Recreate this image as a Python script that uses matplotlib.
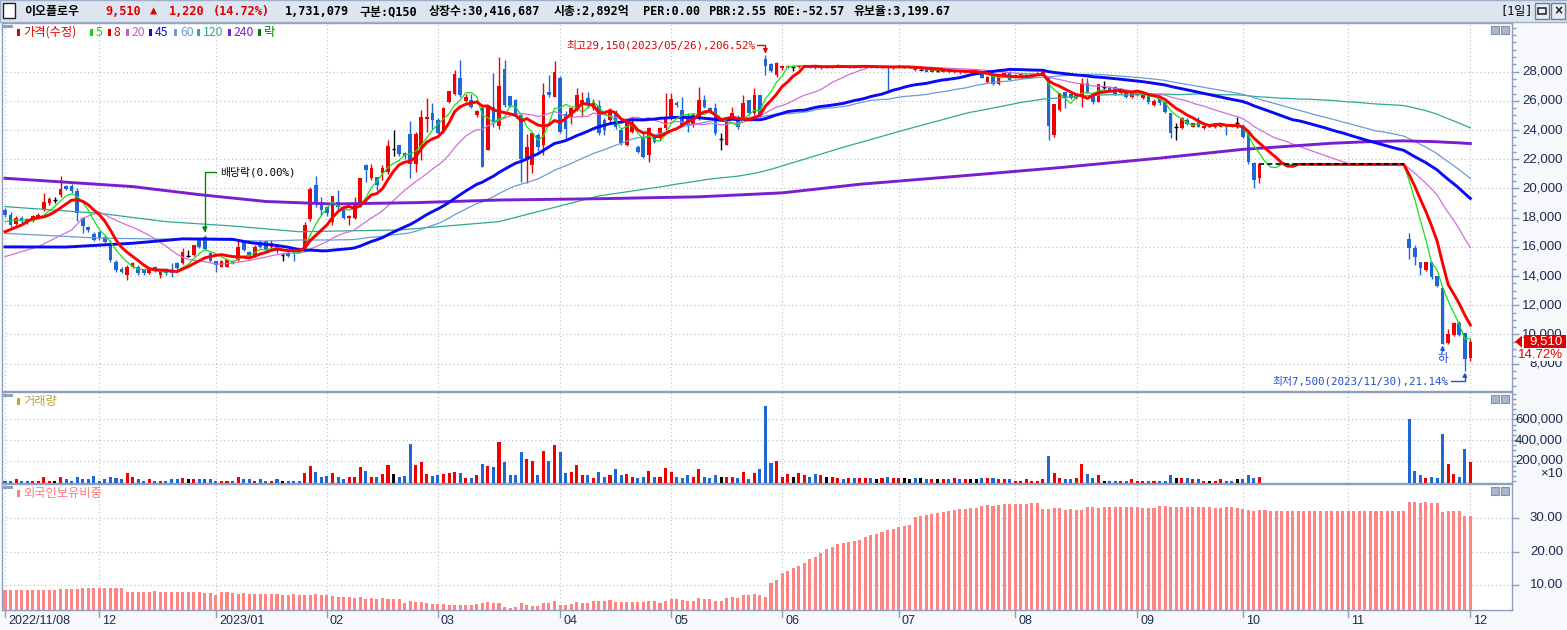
import numpy as np
import pandas as pd
import matplotlib
matplotlib.use("Agg")
import matplotlib.pyplot as plt
from matplotlib import transforms
from matplotlib.patches import Rectangle, Polygon
from matplotlib.ticker import MultipleLocator

# ---------------- data ----------------
opens = [
    18530, 18180, 17600, 18000, 17900, 17750, 17950, 18530, 19000, 19200,
    19550, 20150, 20200, 19800, 17950, 17350, 16900, 17050, 16700, 16250,
    14990, 14500, 14050, 14650, 14650, 14450, 14200, 14650, 14100, 14450,
    14450, 14900, 14900, 15400, 15450, 16450, 16700, 15560, 15000, 14650,
    14650, 15000, 15100, 16350, 15650, 15350, 16350, 16400, 16000, 16100,
    15450, 15600, 15750, 15800, 15900, 17900, 20250, 19100, 18700, 17700,
    19100, 18750, 17950, 17950, 18750, 21600, 20700, 20800, 21050, 21150,
    22700, 23000, 22450, 23750, 21700, 22850, 24750, 25150, 24700, 23900,
    25950, 26500, 27550, 26000, 26050, 25000, 25500, 22650, 25550, 24250,
    28200, 26350, 26050, 25000, 21950, 21600, 23650, 22950, 26600, 26300,
    27550, 25100, 24900, 25400, 25720, 26180, 25490, 25650, 24690, 24690,
    25260, 24010, 22980, 23890, 22860, 23430, 22290, 23550, 23440, 24120,
    24800, 25880, 25370, 24920, 24350, 24920, 26060, 25490, 25490, 23370,
    22980, 24920, 24920, 24920, 26060, 25150, 26400, 28850, 28530, 27770,
    28230, 28300, 28340, 28300, 28340, 28390, 28340, 28250, 28340, 28300,
    28340, 28430, 28300, 28390, 28300, 28300, 28390, 28340, 28300, 28340,
    28250, 28300, 28340, 28300, 28250, 28150, 28150, 28000, 28050, 28000,
    28100, 27950, 28050, 27950, 28000, 27950, 27900, 27320, 27730, 27150,
    27730, 27950, 27600, 27700, 27650, 27750, 27800, 27800, 27660, 23650,
    25380, 26630, 26470, 26220, 26290, 27200, 26520, 25950, 26970, 26930,
    26970, 26560, 26750, 26290, 26400, 26180, 26360, 25720, 26130, 25950,
    25150, 24190, 24120, 24700, 24240, 24700, 24170, 24300, 24190, 24240,
    24240, 24350, 24470, 24300, 23780, 21720, 20700,
] + [21650] * 26 + [
    16520, 15900, 14950, 14420, 14950, 14010, 13190, 9400, 9950, 10810, 10130, 8400,
]

closes = [
    18180, 17500, 17950, 17750, 17700, 18100, 18200, 19100, 19300, 19200,
    19950, 19950, 19800, 18300, 17400, 17150, 16500, 16600, 16350, 15100,
    14400, 14300, 14650, 14870, 14200, 14200, 14400, 14400, 14300, 14200,
    14200, 14550, 15670, 15400, 16100, 16000, 15850, 15000, 14750, 15000,
    15100, 14900, 16000, 15800, 15350, 16000, 16000, 15800, 16250, 15700,
    15450, 15400, 15550, 15700, 17500, 19950, 19100, 18500, 18300, 19500,
    18750, 17950, 18100, 18850, 20700, 21250, 21400, 20250, 21400, 22900,
    22700, 22350, 22200, 21700, 23750, 24900, 24900, 24700, 23800, 25500,
    26700, 27850, 26400, 26300, 25600, 25300, 21500, 25600, 24550, 27000,
    25700, 25650, 24900, 22050, 22850, 23800, 22850, 26400, 26400, 28000,
    23900, 24100, 25500, 26400, 26060, 25720, 25950, 23780, 24010, 25260,
    24240, 23090, 24580, 24580, 22520, 22180, 24120, 23210, 24120, 24800,
    26100, 25720, 24350, 24350, 25030, 26060, 25600, 25260, 23780, 23370,
    24920, 25150, 24240, 25830, 25150, 26400, 25030, 28390, 28070, 28570,
    28390, 28390, 28340, 28390, 28390, 28300, 28250, 28340, 28340, 28390,
    28430, 28340, 28390, 28300, 28340, 28390, 28300, 28340, 28340, 28250,
    28340, 28390, 28340, 28300, 28100, 28150, 28000, 28100, 28050, 28100,
    27950, 28050, 27950, 28000, 28000, 27950, 27600, 27660, 27150, 27730,
    27900, 27450, 27800, 27850, 27800, 27850, 27900, 28000, 24300, 25770,
    26520, 26290, 26220, 26450, 27200, 26630, 25950, 27140, 26970, 26700,
    26450, 26750, 26290, 26560, 26520, 26400, 25900, 26020, 25830, 25220,
    23780, 24190, 24810, 24420, 24470, 24240, 24280, 24300, 24350, 24400,
    24190, 24240, 24470, 23550, 21790, 20580, 21650,
] + [21650] * 26 + [
    15900, 15330, 14540, 14950, 13920, 13350, 9350, 10010, 10810, 9950, 8290, 9510,
]

highs = [
    18640, 18410, 18100, 18150, 18000, 18200, 18350, 19700, 19400, 19450,
    20850, 20250, 20300, 20000, 18050, 17450, 17000, 17100, 16800, 16450,
    15100, 14600, 14750, 14950, 14750, 14500, 14500, 14700, 14400, 14550,
    14900, 14950, 15900, 15800, 16150, 16600, 16800, 15650, 15050, 15100,
    15200, 15100, 16450, 16450, 15700, 16100, 16450, 16500, 16500, 16200,
    15600, 15700, 15800, 15850, 17700, 20100, 20850, 19450, 18800, 19500,
    19900, 18800, 18200, 19400, 20700, 21700, 21700, 20800, 21600, 23350,
    24000, 23000, 22500, 24600, 23900, 25350, 26200, 25850, 24800, 25600,
    26700, 28150, 28800, 26500, 26500, 25400, 25700, 25600, 27900, 29000,
    28800, 26350, 26100, 25000, 23750, 23800, 23800, 27200, 27750, 28700,
    27700, 25300, 25600, 26900, 26630, 26630, 26100, 26060, 24800, 25490,
    25400, 24120, 24650, 24920, 22950, 23780, 24240, 23650, 24240, 26520,
    26520, 26000, 26290, 25150, 25150, 26970, 26400, 25600, 25830, 23780,
    24920, 25600, 25030, 26400, 26060, 26850, 26400, 29150, 28620, 28690,
    28450, 28450, 28450, 28450, 28450, 28450, 28390, 28390, 28390, 28450,
    28500, 28450, 28450, 28430, 28390, 28430, 28430, 28390, 28390, 28390,
    28390, 28430, 28390, 28340, 28300, 28250, 28200, 28150, 28100, 28150,
    28150, 28100, 28100, 28050, 28050, 28000, 27950, 27700, 27800, 27800,
    28000, 28050, 27850, 27900, 27850, 27900, 27950, 28050, 27700, 25770,
    26520, 26630, 26550, 26550, 27550, 27590, 26600, 27150, 27360, 27000,
    27000, 26800, 26800, 26600, 26600, 26450, 26400, 26100, 26200, 26000,
    25150, 24470, 24900, 24800, 24500, 24920, 24350, 24400, 24400, 24450,
    24300, 24400, 24920, 24400, 23800, 21800, 21720,
] + [21650] * 26 + [
    16930, 16130, 14950, 14950, 14950, 14010, 13190, 10360, 10850, 10900, 10130, 9700,
]

lows = [
    18070, 17390, 17500, 17650, 17600, 17700, 17900, 18450, 18900, 19000,
    19400, 19900, 19700, 17800, 16950, 17050, 16400, 16500, 16250, 14990,
    14300, 14200, 13750, 14550, 14100, 14100, 14150, 14300, 13900, 14100,
    13950, 14450, 14850, 15300, 15400, 15900, 15800, 14950, 14300, 14600,
    14600, 14800, 15000, 15700, 15250, 15300, 15900, 15700, 15950, 15600,
    15000, 15300, 15000, 15650, 15850, 17800, 18750, 18200, 18100, 17500,
    18550, 17900, 17500, 17900, 18700, 20450, 20600, 19900, 20600, 21000,
    22250, 22200, 22000, 20700, 21150, 21950, 23900, 24100, 23700, 23800,
    25850, 26400, 26300, 25900, 25500, 24900, 21500, 22650, 24200, 24100,
    25600, 25600, 24850, 20450, 20400, 21050, 22600, 22300, 26300, 26250,
    23800, 23400, 24400, 25300, 24920, 25490, 25400, 23670, 23670, 24580,
    24100, 22980, 22900, 23780, 22400, 22060, 21840, 23100, 23300, 24000,
    24690, 25600, 24300, 23890, 24240, 24690, 25490, 25150, 23670, 22640,
    22980, 24800, 24100, 24690, 25030, 25030, 24920, 27770, 27980, 27660,
    28150, 28250, 28070, 28250, 28300, 28250, 28200, 28200, 28300, 28250,
    28300, 28300, 28250, 28250, 28250, 28250, 28250, 28300, 28250, 26650,
    28200, 28250, 28250, 28250, 28050, 28100, 27950, 27950, 28000, 27950,
    27900, 27900, 27850, 27900, 27950, 27850, 27550, 27250, 27100, 27100,
    27700, 27400, 27550, 27600, 27600, 27700, 27750, 27750, 23320, 23550,
    25300, 25490, 26100, 26150, 25560, 26550, 25800, 25900, 26750, 26600,
    26400, 26500, 26200, 26200, 26350, 26100, 25800, 25650, 25750, 25150,
    23440, 23330, 24050, 24350, 24200, 24200, 24100, 24200, 24150, 24200,
    23670, 24200, 24120, 23450, 21700, 20010, 20350,
] + [21650] * 26 + [
    15150, 14760, 14080, 14380, 13780, 13280, 9350, 9350, 9900, 9900, 7500, 8200,
]

# volume in axis units (axis shows x10), thousands
volumes = [
    8, 8, 20, 8, 8, 8, 8, 40, 8, 8,
    40, 20, 8, 40, 20, 20, 50, 8, 20, 40,
    30, 20, 80, 40, 20, 8, 20, 8, 8, 8,
    20, 20, 30, 20, 20, 20, 20, 20, 8, 8,
    8, 8, 40, 20, 20, 8, 20, 8, 8, 20,
    8, 8, 8, 8, 80, 150, 90, 40, 50, 80,
    45, 25, 40, 45, 140, 100, 45, 45, 70, 160,
    70, 45, 50, 360, 160, 190, 75, 50, 60, 75,
    85, 95, 85, 30, 30, 65, 165, 145, 135, 380,
    185, 60, 60, 280, 220, 195, 60, 290, 200, 350,
    280, 85, 95, 155, 65, 65, 30, 95, 40, 65,
    115, 65, 75, 45, 30, 40, 105, 40, 45, 125,
    95, 40, 30, 65, 40, 115, 40, 30, 65, 45,
    40, 45, 30, 95, 20, 85,
    116, 727, 174, 200, 47, 67, 47, 77, 57, 47,
    67, 57, 47, 47, 37, 18, 28, 28, 37, 28,
    28, 18, 37, 47, 37, 28, 28, 18, 28, 28,
    18, 18, 18, 18, 18, 28, 18, 18, 18, 18,
    28, 37, 37, 18, 18, 18, 5, 5, 18, 5,
    5, 18, 242, 77, 28, 18, 18, 28, 164, 67,
    28, 57, 5, 5, 5, 5, 5, 18, 5, 5,
    5, 5, 5, 5, 57, 28, 28, 37, 18, 18,
    5, 5, 5, 18, 5, 5, 18, 18, 57, 37, 47,
] + [0] * 26 + [
    603, 96, 57, 37, 47, 28, 457, 164, 67, 47, 311, 184,
]
volumes = [v * 1000 for v in volumes]

# foreign ownership ratio (%)
foreign = (
    [8.5] * 10 + [8.8] * 4 + [9.1] * 8 + [7.9] * 5 + [8.2] + [7.9] * 8 +
    [7.6, 7.6, 7.0, 7.9, 7.9, 7.6, 7.3, 7.6] + [7.3] * 6 +
    [7.0, 7.0, 7.3, 7.0, 7.0, 7.0, 7.3, 7.0, 7.0, 6.8] +
    [6.4, 6.4, 6.4, 6.1, 6.4, 5.8, 6.1, 5.8, 6.1, 5.8, 5.8, 5.8] +
    [4.6, 5.2, 4.9, 4.9, 4.6, 4.3, 4.3, 4.3, 4.0, 4.0, 4.0, 4.0, 4.0] +
    [4.3, 4.6, 4.9, 4.6, 4.6, 3.4, 3.1, 3.4, 4.6, 4.0, 3.7, 3.7, 4.6, 4.6, 5.2] +
    [4.0, 4.0, 4.3, 4.9, 4.6, 4.6, 5.2, 5.2, 5.2, 5.5] + [4.9] * 6 +
    [5.2, 5.2, 4.6, 5.2, 5.8, 5.8, 5.5, 5.2, 5.2, 6.1, 5.8, 5.8, 5.2, 5.2,
     6.1, 6.4, 6.1, 7.0, 7.0, 7.3, 7.0, 6.4] +
    [10.6, 11.5, 13.6, 14.2, 15.1, 15.7, 16.6, 17.8, 18.4, 19.6,
     20.8, 21.4, 22.3, 22.6, 22.9, 23.2, 23.5, 24.4, 25.0, 25.3,
     25.9, 26.5, 26.8, 27.4, 27.7, 28.0, 30.4, 30.7, 31.0, 31.3,
     31.6, 31.9, 32.2, 32.5, 32.8, 32.8, 33.1, 33.1, 33.7, 34.0,
     33.7, 34.0, 34.3, 34.3, 34.3, 34.3, 34.3, 34.6, 34.6] +
    [32.8, 32.8, 33.1, 33.1, 32.5, 32.8, 32.5, 32.5, 33.4, 33.4, 33.1, 33.4] +
    [33.4, 33.4, 33.4, 33.4, 33.4, 33.4, 33.1, 33.1, 33.1, 33.7,
     33.7, 33.4, 33.4, 33.4, 33.4, 33.4, 33.4, 33.4, 33.4, 33.1,
     33.1, 33.4, 33.4, 33.1, 32.8] +
    [32.5, 32.2, 32.5, 32.5] + [32.2] * 25 +
    [34.9, 34.9, 34.6, 34.9, 34.6, 34.6, 31.9, 32.2, 32.2, 32.2, 30.7, 30.7]
)

# moving-average values before enough history exists inside the window
ma5_idx, ma5_val = [0, 2], [17730, 17850]
ma8_idx, ma8_val = [0, 3, 5], [17040, 17500, 17950]
ma20_idx, ma20_val = [0, 6, 12, 14, 17], [15330, 16020, 17160, 17960, 18400]
ma45_idx = [0, 11, 23, 32, 41]
ma45_val = [16000, 15990, 16250, 16550, 16520]
ma60_idx = [0, 17, 35, 47, 53]
ma60_val = [16930, 16600, 16500, 16400, 16470]
ma120_idx = [0, 17, 29, 41, 53, 71, 89, 107]
ma120_val = [18760, 18300, 17730, 17430, 17040, 17160, 17730, 19490]
ma240_idx = [0, 11, 23, 35, 47, 59, 74, 89, 107, 125, 140, 154, 172, 190, 208, 223, 233]
ma240_val = [20700, 20430, 20130, 19580, 19110, 18940, 19030, 19210, 19300, 19430,
             19700, 20290, 20850, 21430, 22080, 22680, 22940]

month_labels = ["2022/11/08", "12", "2023/01", "02", "03", "04", "05", "06",
                "07", "08", "09", "10", "11", "12"]
month_pos = [0, 17, 38, 58, 78, 100, 120, 140, 161, 182, 204, 223, 242, 264]

hi_date = "2023/05/26"
lo_date = "2023/11/30"
name = "이오플로우"

# ---------------- figure ----------------
W, H = 1567, 630
fig = plt.figure(figsize=(W / 100, H / 100), dpi=100)
fig.patch.set_facecolor('#f6f8fb')

FONT_MIX = ['DejaVu Sans Mono', 'Noto Sans CJK KR']
FONT_KR = ['Noto Sans CJK KR', 'DejaVu Sans']
FONT_AX = ['Liberation Sans', 'DejaVu Sans']
SPINE = '#8d9fbd'
RED = '#f00000'
BLUE = '#1f66d6'
NAVY = '#1c2a4e'
GRID = '#b9c0ca'


def fx(x):
    return x / W


def fy(y):
    return 1 - y / H


def box(l, t, r, b):
    return [l / W, 1 - b / H, (r - l) / W, (b - t) / H]


def ftext(x, y, s, **kw):
    kw.setdefault('va', 'center')
    return fig.text(fx(x), fy(y), s, **kw)


def frect(x0, y0, x1, y1, **kw):
    fig.patches.append(Rectangle((fx(x0), fy(y1)), (x1 - x0) / W, (y1 - y0) / H,
                                 transform=fig.transFigure, figure=fig, **kw))


O = np.array(opens, float)
Hh = np.array(highs, float)
L = np.array(lows, float)
C = np.array(closes, float)
V = np.array(volumes, float)
F = np.array(foreign, float)
n = len(C)
idx = np.arange(n)
traded = V > 0
cs = pd.Series(C)


def ma_line(win, sp_idx, sp_val):
    full = cs.rolling(win).mean().to_numpy()
    start = win - 1
    xs = [i for i in sp_idx if i < start] + list(range(start, n))
    ys = [v for i, v in zip(sp_idx, sp_val) if i < start] + list(full[start:])
    return xs, ys


ax_p = fig.add_axes(box(2, 23, 1512, 391))
ax_v = fig.add_axes(box(2, 392, 1512, 483))
ax_f = fig.add_axes(box(2, 484, 1512, 610))

XL = (-0.54, 271.5)
for ax in (ax_p, ax_v, ax_f):
    ax.set_facecolor('white')
    ax.set_xlim(*XL)
    for s in ax.spines.values():
        s.set_color(SPINE)
        s.set_linewidth(1.0)
    ax.set_xticks(month_pos)
    ax.tick_params(axis='x', length=0, labelbottom=False)
    ax.yaxis.tick_right()
    ax.tick_params(axis='y', which='major', direction='out', length=5, width=1,
                   color=SPINE, labelright=False, labelleft=False)
    ax.tick_params(axis='y', which='minor', direction='out', length=3, width=1,
                   color=SPINE)
    ax.grid(True, which='major', ls=(0, (1, 2.5)), color=GRID, lw=0.8)
    ax.set_axisbelow(True)

# ---- price panel ----
ax_p.set_ylim(6130, 31335)
ax_p.set_yticks(np.arange(8000, 28001, 2000))
ax_p.yaxis.set_minor_locator(MultipleLocator(500))

colors = np.where(C > O, RED, np.where(C < O, BLUE, 'black'))
for col in (RED, BLUE, 'black'):
    m = traded & (colors == col)
    ax_p.vlines(idx[m], L[m], Hh[m], color=col, lw=1.0, zorder=3)
    if col == 'black':
        ax_p.hlines(C[m], idx[m] - 0.34, idx[m] + 0.34, color=col, lw=1.0, zorder=3)
    else:
        ax_p.bar(idx[m], np.abs(C[m] - O[m]), bottom=np.minimum(O[m], C[m]),
                 width=0.66, color=col, linewidth=0, zorder=3)

lines = [
    (120, ma120_idx, ma120_val, '#2fa894', 0.9, 4),
    (60, ma60_idx, ma60_val, '#6e9bd2', 0.9, 4),
    (20, ma20_idx, ma20_val, '#d070d6', 0.9, 4),
    (240, ma240_idx, ma240_val, '#7a1fd0', 2.1, 4),
    (45, ma45_idx, ma45_val, '#0a0af5', 2.1, 5),
    (5, ma5_idx, ma5_val, '#18e018', 0.9, 5),
    (8, ma8_idx, ma8_val, '#ff0000', 2.1, 5),
]
for win, si, sv, col, lw, z in lines:
    xs, ys = ma_line(win, si, sv)
    ax_p.plot(xs, ys, color=col, lw=lw, zorder=z, solid_joinstyle='round')

# trading halt shown as dashed price line
halt = np.where(~traded)[0]
if len(halt):
    hs = np.arange(halt[0] - 1, halt[-1] + 1)
    ax_p.plot(hs, C[hs], color='black', lw=1.2, ls=(0, (3, 2)), zorder=6)

# annotations
i_hi = int(np.argmax(Hh))
i_lo = int(np.argmin(L))
last = C[-1]
pct_hi = (Hh[i_hi] - last) / last * 100
pct_lo = (last - L[i_lo]) / last * 100
ax_p.annotate(f"최고{int(Hh[i_hi]):,}({hi_date}),{pct_hi:.2f}%", xy=(i_hi, Hh[i_hi]),
              xytext=(-10, 10), textcoords='offset pixels', ha='right', va='center',
              color='#e00000', fontsize=7.8, family=FONT_MIX, zorder=8)
ax_p.annotate('', xy=(i_hi, Hh[i_hi]), xytext=(-8, 10), textcoords='offset pixels',
              arrowprops=dict(arrowstyle='-|>', color='#e00000', lw=1, shrinkA=0, shrinkB=1,
                              mutation_scale=6,
                              connectionstyle='angle,angleA=0,angleB=90,rad=0'), zorder=8)
ax_p.annotate(f"최저{int(L[i_lo]):,}({lo_date}),{pct_lo:.2f}%", xy=(i_lo, L[i_lo]),
              xytext=(-16, -10), textcoords='offset pixels', ha='right', va='center',
              color='#1f50d0', fontsize=7.8, family=FONT_MIX, zorder=8)
ax_p.annotate('', xy=(i_lo, L[i_lo]), xytext=(-14, -10), textcoords='offset pixels',
              arrowprops=dict(arrowstyle='-|>', color='#1f50d0', lw=1, shrinkA=0, shrinkB=1,
                              mutation_scale=6,
                              connectionstyle='angle,angleA=0,angleB=90,rad=0'), zorder=8)
i_div = 36
ax_p.annotate("배당락(0.00%)", xy=(i_div, Hh[i_div]), xytext=(15, 63),
              textcoords='offset pixels', ha='left', va='center', color='black',
              fontsize=7.8, family=FONT_MIX, zorder=8)
ax_p.annotate('', xy=(i_div, Hh[i_div]), xytext=(11, 63), textcoords='offset pixels',
              arrowprops=dict(arrowstyle='-|>', color='#008a00', lw=1, shrinkA=0, shrinkB=2,
                              mutation_scale=7,
                              connectionstyle='angle,angleA=0,angleB=90,rad=0'), zorder=8)
i_lim = 259
ax_p.annotate("하", xy=(i_lim, L[i_lim]), xytext=(0, -15), textcoords='offset pixels',
              ha='center', va='center', color='#1f50d0', fontsize=8.5,
              family=FONT_KR, zorder=8)
ax_p.annotate('', xy=(i_lim, L[i_lim]), xytext=(0, -8), textcoords='offset pixels',
              arrowprops=dict(arrowstyle='-|>', color='#1f50d0', lw=1, shrinkA=0, shrinkB=1,
                              mutation_scale=6), zorder=8)

# ---- volume panel ----
VB = -16000
ax_v.set_ylim(VB, 866000)
ax_v.set_yticks([200000, 400000, 600000])
ax_v.yaxis.set_minor_locator(MultipleLocator(50000))
for col in (RED, BLUE, 'black'):
    m = traded & (colors == col)
    ax_v.bar(idx[m], V[m] - VB, bottom=VB, width=0.55, color=col, linewidth=0, zorder=3)

# ---- foreign ownership panel ----
ax_f.set_ylim(2.5, 40.3)
ax_f.set_yticks([10, 20, 30])
ax_f.bar(idx, F - 2.5, bottom=2.5, width=0.55, color='#ff8585', linewidth=0, zorder=3)

fig.canvas.draw()


def ylabels(ax, vals, fmt):
    tr = transforms.blended_transform_factory(fig.transFigure, ax.transData)
    for v in vals:
        ax.text(fx(1563), v, fmt(v), transform=tr, ha='right', va='center',
                fontsize=9.5, color=NAVY, family=FONT_AX, clip_on=False)


ylabels(ax_p, np.arange(8000, 28001, 2000), lambda v: f"{int(v):,}")
ylabels(ax_v, [200000, 400000, 600000], lambda v: f"{int(v):,}")
ylabels(ax_f, [10, 20, 30], lambda v: f"{v:.2f}")
ftext(1563, 474, "×10", ha='right', fontsize=9.5, color=NAVY, family=FONT_AX)

# current price tag
ypix = H - ax_p.transData.transform((0, last))[1]
frect(1524, ypix - 7, 1566, ypix + 6.5, facecolor='#e00000', edgecolor='none')
ftext(1563, ypix, f"{int(last):,}", ha='right', fontsize=9.5, color='white', family=FONT_AX)
frect(1524, ypix + 7, 1566, ypix + 19, facecolor='white', edgecolor='none')
chg = C[-1] - C[-2]
ftext(1563, ypix + 13, f"{chg / C[-2] * 100:.2f}%", ha='right', fontsize=9.5,
      color='#e00000', family=FONT_AX)
fig.patches.append(Polygon([(fx(1515), fy(ypix)), (fx(1522), fy(ypix - 6)),
                            (fx(1522), fy(ypix + 6))], closed=True,
                           transform=fig.transFigure, figure=fig,
                           facecolor='#e00000', edgecolor='none'))

# x-axis month labels
trx = transforms.blended_transform_factory(ax_f.transData, fig.transFigure)
trx_off = transforms.offset_copy(trx, fig=fig, x=3, y=0, units='dots')
for p, lab in zip(month_pos, month_labels):
    ax_f.plot([p, p], [fy(611), fy(617)], transform=trx, color=SPINE, lw=1, clip_on=False)
    ax_f.text(p, fy(621), lab, transform=trx_off, ha='left', va='center', fontsize=9,
              color=NAVY, family=FONT_AX, clip_on=False)

# ---- header bar ----
frect(0, 0, 1567, 22, facecolor='#dde5f0', edgecolor='#9eb0c8', lw=1)
frect(3, 3, 15, 18, facecolor='white', edgecolor='#202020', lw=1)
hk = dict(fontsize=8.6, family=FONT_MIX, va='center', fontweight='bold')
ftext(24, 11.5, name, color='black', **hk)
ftext(105, 11.5, f"{int(last):,}", color='#e00000', **hk)
ftext(150, 11.5, "▲", color='#e00000', **hk)
ftext(169, 11.5, f"{int(chg):,}", color='#e00000', **hk)
ftext(213, 11.5, f"({chg / C[-2] * 100:.2f}%)", color='#e00000', **hk)
ftext(285, 11.5, "1,731,079", color='black', **hk)
ftext(360, 11.5, "구분:Q150", color='black', **hk)
ftext(429, 11.5, "상장수:30,416,687", color='black', **hk)
ftext(554, 11.5, "시총:2,892억", color='black', **hk)
ftext(643, 11.5, "PER:0.00", color='black', **hk)
ftext(709, 11.5, "PBR:2.55", color='black', **hk)
ftext(773, 11.5, "ROE:-52.57", color='black', **hk)
ftext(853, 11.5, "유보율:3,199.67", color='black', **hk)
ftext(1500, 11.5, "[1일]", color='black', fontsize=8.6, family=FONT_MIX)
frect(1535, 3, 1549, 19, facecolor='#e9edf3', edgecolor='#6d7d96', lw=1)
frect(1538, 8, 1546, 14, facecolor='none', edgecolor='#303030', lw=1.2)
frect(1551, 3, 1565, 19, facecolor='#e9edf3', edgecolor='#6d7d96', lw=1)
ftext(1558, 11, "×", ha='center', fontsize=10, color='#202020', family=FONT_AX,
      fontweight='bold')

# ---- panel legends & corner icons ----
for top in (23, 392, 484):
    frect(3, top + 1.5, 13, top + 5, facecolor='#8fa0bb', edgecolor='none')
    frect(1491, top + 3, 1499, top + 11, facecolor='#a9b7cc', edgecolor='#8292ad', lw=0.8)
    frect(1501, top + 3, 1509, top + 11, facecolor='#a9b7cc', edgecolor='#8292ad', lw=0.8)

leg = [("가격(수정)", '#e00000', 17), ("5", '#10d010', 90), ("8", '#e00000', 108),
       ("20", '#c060c8', 126), ("45", '#0a0af5', 149), ("60", '#6e9bd2', 174),
       ("120", '#2fa894', 197), ("240", '#7a1fd0', 228), ("락", '#008000', 258)]
for txt, col, x in leg:
    frect(x, 29, x + 2.7, 35.5, facecolor=col, edgecolor='none')
    ftext(x + 6, 32.3, txt, color=col, fontsize=8.8, family=FONT_KR)
frect(17, 398, 19.7, 404.5, facecolor='#b8a838', edgecolor='none')
ftext(23, 401.3, "거래량", color='#b8a838', fontsize=8.8, family=FONT_KR)
frect(17, 490, 19.7, 496.5, facecolor='#ff7a7a', edgecolor='none')
ftext(23, 493.3, "외국인보유비중", color='#ff7a7a', fontsize=8.8, family=FONT_KR)

fig.savefig("out.png", dpi=100, facecolor=fig.get_facecolor())
